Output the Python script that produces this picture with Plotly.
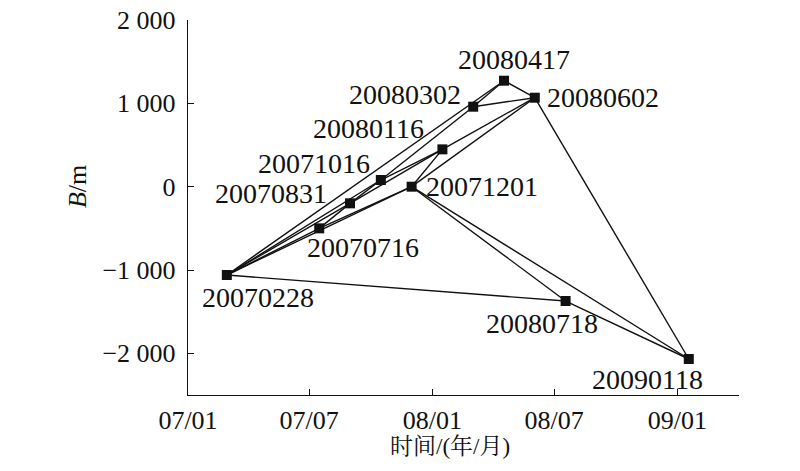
import plotly.graph_objects as go

# Acquisition dates (yyyymmdd) and perpendicular baselines B (m)
dates = ["20070228", "20070716", "20070831", "20071016", "20071201",
         "20080116", "20080302", "20080417", "20080602", "20080718", "20090118"]
baselines = [-1060, -500, -200, 80, 0, 448, 960, 1272, 1068, -1372, -2068]

# Interferometric pairs (edges of the baseline network)
pairs = [
    ("20070228", "20080718"),
    ("20070228", "20070716"),
    ("20070228", "20070831"),
    ("20070228", "20071016"),
    ("20070228", "20071201"),
    ("20070228", "20080417"),
    ("20070716", "20070831"),
    ("20070716", "20071201"),
    ("20070831", "20071016"),
    ("20070831", "20080116"),
    ("20071016", "20080116"),
    ("20071016", "20080302"),
    ("20071201", "20080116"),
    ("20071201", "20080602"),
    ("20071201", "20080718"),
    ("20071201", "20090118"),
    ("20080116", "20080602"),
    ("20080302", "20080417"),
    ("20080302", "20080602"),
    ("20080417", "20080602"),
    ("20080602", "20090118"),
    ("20080718", "20090118"),
]

x_tickvals = ["2007-01-01", "2007-07-01", "2008-01-01", "2008-07-01", "2009-01-01"]
x_ticktext = ["07/01", "07/07", "08/01", "08/07", "09/01"]
y_tickvals = [-2000, -1000, 0, 1000, 2000]
y_ticktext = ["\u22122 000", "\u22121 000", "0", "1 000", "2 000"]

# label offsets in px (dx right, dy down) -- styling only
label_offsets = {
    "20070228": (31, 22), "20070716": (44, 19), "20070831": (-79, -10),
    "20071016": (-67, -17), "20071201": (70, 0), "20080116": (-74, -21),
    "20080302": (-68, -12), "20080417": (10, -21), "20080602": (68, 0),
    "20080718": (-24, 22), "20090118": (-41, 20),
}


def to_iso(d):
    return f"{d[:4]}-{d[4:6]}-{d[6:]}"


xs = [to_iso(d) for d in dates]
lookup = dict(zip(dates, baselines))

SERIF = "Liberation Serif, Times New Roman, Noto Serif CJK SC, Noto Sans CJK SC, serif"

fig = go.Figure()

ex, ey = [], []
for a, b in pairs:
    ex += [to_iso(a), to_iso(b), None]
    ey += [lookup[a], lookup[b], None]

fig.add_trace(go.Scatter(x=ex, y=ey, mode="lines",
                         line=dict(color="#111111", width=1.4),
                         hoverinfo="skip", showlegend=False))
fig.add_trace(go.Scatter(x=xs, y=baselines, mode="markers",
                         marker=dict(symbol="square", size=10, color="#111111"),
                         text=dates, showlegend=False))

for d, xv, yv in zip(dates, xs, baselines):
    dx, dy = label_offsets[d]
    fig.add_annotation(x=xv, y=yv, text=d, showarrow=False,
                       xshift=dx, yshift=-dy,
                       font=dict(family=SERIF, size=28, color="#111111"))

fig.add_annotation(x=0.4755, y=-0.136, xref="paper", yref="paper",
                   text="时间/(年/月)", showarrow=False,
                   yanchor="middle", xanchor="center",
                   font=dict(family=SERIF, size=23, color="#111111"))
fig.add_annotation(x=-0.2015, y=0.557, xref="paper", yref="paper",
                   text="<i>B</i>/m", showarrow=False, textangle=-90,
                   yanchor="middle", xanchor="center",
                   font=dict(family=SERIF, size=26, color="#111111"))

axis_common = dict(showgrid=False, zeroline=False, showline=True,
                   linecolor="#111111", linewidth=1.4, automargin=False,
                   ticklabeloverflow="allow",
                   ticks="inside", ticklen=6, tickwidth=1.4, tickcolor="#111111",
                   tickfont=dict(family=SERIF, size=26, color="#111111"))

fig.update_xaxes(type="date", range=["2007-01-01", "2009-04-03"],
                 tickvals=x_tickvals, ticktext=x_ticktext,
                 ticklabelstandoff=2, **axis_common)
fig.update_yaxes(range=[-2500, 2000.5], tickvals=y_tickvals, ticktext=y_ticktext,
                 ticklabelstandoff=6, **axis_common)

fig.update_layout(width=800, height=471,
                  margin=dict(l=180, r=69, t=12, b=84, autoexpand=False),
                  plot_bgcolor="white", paper_bgcolor="white",
                  font=dict(family=SERIF, color="#111111"))

fig.write_html("out.html")
